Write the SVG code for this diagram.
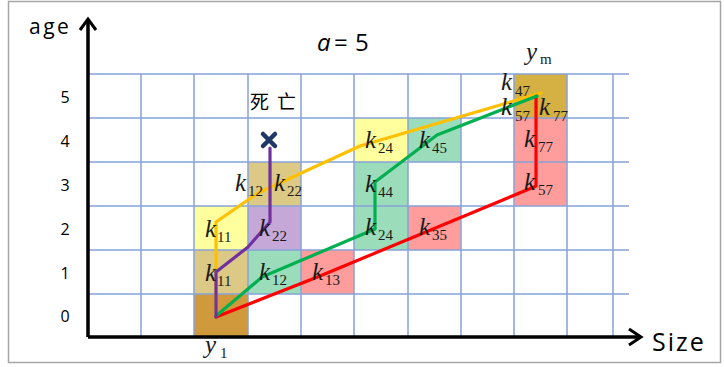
<svg xmlns="http://www.w3.org/2000/svg" width="724" height="367" viewBox="0 0 724 367">
<defs>
<style>
.k{font-family:"Liberation Serif",serif;font-style:italic;font-size:25px;fill:#1a1a1a}
.s{font-family:"Liberation Serif",serif;font-size:15px;fill:#1a1a1a}
.num{font-family:"Open Sans","Liberation Sans",sans-serif;font-size:16px;fill:#000;text-anchor:middle}
.ax{font-family:"Open Sans","Liberation Sans",sans-serif;fill:#000}
.grid{stroke:#86A3D8;stroke-width:1.5;fill:none}
.path{fill:none;stroke-width:3.2;stroke-linejoin:round;stroke-linecap:round}
</style>
</defs>
<rect x="0" y="0" width="724" height="367" fill="#fff"/>
<rect x="8.5" y="1.5" width="712" height="361" fill="none" stroke="#A6A6A6" stroke-width="1.5"/>

<!-- cells -->
<g id="cell-y1"><rect x="194" y="294" width="54" height="43" fill="#D09A3C"/></g>
<g id="cell-k11a"><rect x="194" y="250" width="54" height="44" fill="#DCC986"/></g>
<g id="cell-k11b"><rect x="194" y="206" width="54" height="44" fill="#FFFF9E"/></g>
<g id="cell-k12-22"><rect x="248" y="162" width="53" height="44" fill="#DCC986"/></g>
<g id="cell-k22"><rect x="248" y="206" width="53" height="44" fill="#C5A8D8"/></g>
<g id="cell-k12"><rect x="248" y="250" width="53" height="44" fill="#9BDDBA"/></g>
<g id="cell-k13"><rect x="301" y="250" width="53" height="44" fill="#FF9C9C"/></g>
<g id="cell-k24top"><rect x="354" y="118" width="54" height="44" fill="#FFFF9E"/></g>
<g id="cell-k45"><rect x="408" y="118" width="53" height="44" fill="#9BDDBA"/></g>
<g id="cell-k44-24"><rect x="354" y="162" width="54" height="88" fill="#9BDDBA"/></g>
<g id="cell-k35"><rect x="408" y="206" width="53" height="44" fill="#FF9C9C"/></g>
<g id="cell-ym"><rect x="514" y="74" width="53" height="44" fill="#D5B043"/></g>
<g id="cell-k77-57"><rect x="514" y="118" width="53" height="88" fill="#FF9C9C"/></g>

<!-- grid -->
<g class="grid">
<path d="M88 74H629M88 118H629M88 162H629M88 206H629M88 250H629M88 294H629"/>
<path d="M141 74V337M194 74V337M248 74V337M301 74V337M354 74V337M408 74V337M461 74V337M514 74V337M567 74V337M613 74V337"/>
</g>

<!-- axes -->
<g id="axes" fill="none" stroke="#000" stroke-width="3.5">
<path d="M88 337V20M88 337H640"/>
<path d="M80 30L88 19L96 30" stroke-width="3"/>
<path d="M629 329L641 337L629 345" stroke-width="3"/>
</g>

<!-- connectors -->
<g id="connectors">
<path class="path" stroke="#FFC000" d="M216 316V222L258 193L360 146L541 93"/>
<path class="path" stroke="#FF0000" d="M216 317L320 276L534 187L536 186V96"/>
<path class="path" stroke="#00B050" d="M216 316L262 277L375 229V182L437 135L537 96"/>
<path class="path" stroke="#7030A0" d="M216 317V272L248 247L270 222V148"/>
</g>

<g id="death-mark" stroke="#1F3868" stroke-width="4.5" stroke-linecap="round">
<path d="M263 134L275 146M275 134L263 146"/>
</g>

<!-- labels -->
<g id="labels">
<text class="k" x="205" y="237">k</text><text class="s" x="217" y="242">11</text>
<text class="k" x="205" y="281">k</text><text class="s" x="217" y="286">11</text>
<text class="k" x="235" y="191">k</text><text class="s" x="248" y="196">12</text>
<text class="k" x="274" y="191">k</text><text class="s" x="287" y="196">22</text>
<text class="k" x="259" y="236">k</text><text class="s" x="272" y="241">22</text>
<text class="k" x="259" y="280">k</text><text class="s" x="272" y="285">12</text>
<text class="k" x="312" y="280">k</text><text class="s" x="325" y="285">13</text>
<text class="k" x="365" y="148">k</text><text class="s" x="378" y="153">24</text>
<text class="k" x="419" y="148">k</text><text class="s" x="432" y="153">45</text>
<text class="k" x="365" y="192">k</text><text class="s" x="378" y="197">44</text>
<text class="k" x="365" y="235">k</text><text class="s" x="378" y="240">24</text>
<text class="k" x="419" y="235">k</text><text class="s" x="432" y="240">35</text>
<text class="k" x="501" y="90">k</text><text class="s" x="515" y="96">47</text>
<text class="k" x="501" y="115">k</text><text class="s" x="515" y="121">57</text>
<text class="k" x="539" y="115">k</text><text class="s" x="553" y="121">77</text>
<text class="k" x="524" y="147">k</text><text class="s" x="538" y="152">77</text>
<text class="k" x="524" y="190">k</text><text class="s" x="538" y="195">57</text>
<text class="k" x="205" y="353">y</text><text class="s" x="220" y="358">1</text>
<text class="k" x="526" y="60">y</text><text class="s" x="540" y="64">m</text>
</g>

<g id="axis-labels">
<text class="num" x="65" y="103">5</text>
<text class="num" x="65" y="147">4</text>
<text class="num" x="65" y="191">3</text>
<text class="num" x="65" y="235">2</text>
<text class="num" x="65" y="279">1</text>
<text class="num" x="65" y="322">0</text>
<text class="ax" x="29" y="34" font-size="21" letter-spacing="2.5">age</text>
<text class="ax" x="652" y="351" font-size="25" letter-spacing="2">Size</text>
<text class="ax" y="51" font-size="24"><tspan x="317" font-style="italic">a</tspan><tspan x="334">=</tspan><tspan x="355">5</tspan></text>
<text x="250" y="109" font-family="'Noto Sans CJK SC','Noto Sans CJK JP',sans-serif" font-size="19" letter-spacing="8" fill="#000">死亡</text>
</g>
</svg>
